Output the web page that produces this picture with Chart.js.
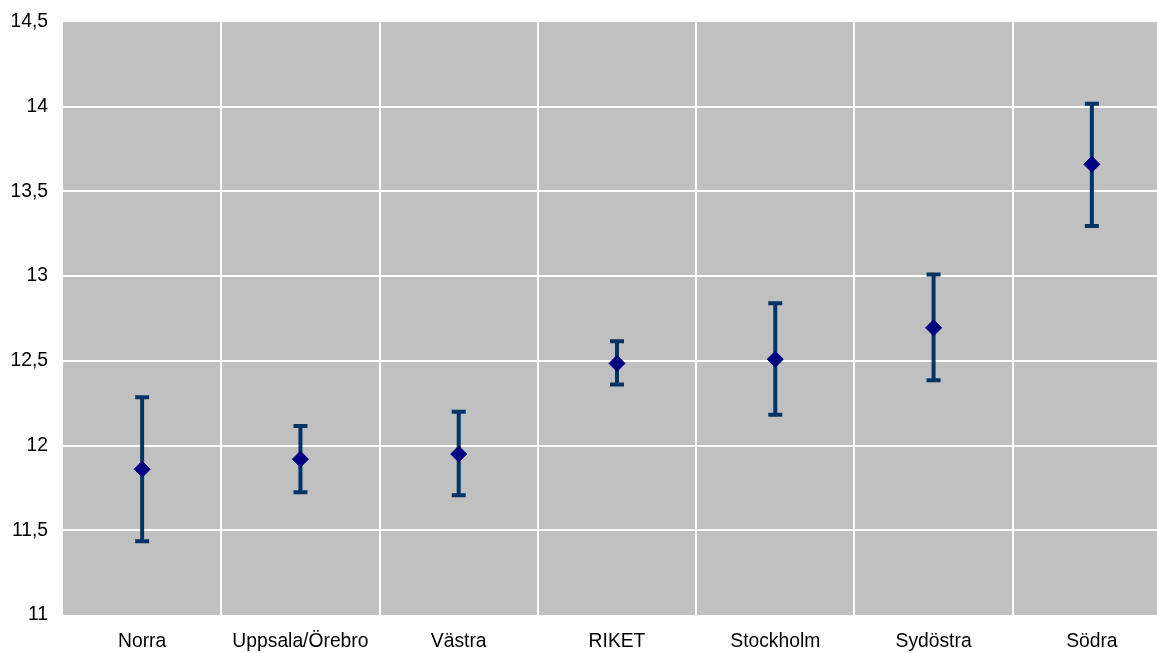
<!DOCTYPE html>
<html>
<head>
<meta charset="utf-8">
<script src="https://cdn.jsdelivr.net/npm/chart.js@4/dist/chart.umd.min.js"></script>
<style>
  html, body { margin: 0; padding: 0; background: #fff; overflow: hidden; }
  #wrap { width: 1180px; height: 653px; position: relative; }
</style>
</head>
<body>
<div id="wrap"><canvas id="c"></canvas></div>
<script>
const categories = ['Norra', 'Uppsala/Örebro', 'Västra', 'RIKET', 'Stockholm', 'Sydöstra', 'Södra'];
const means = [11.86, 11.92, 11.95, 12.485, 12.51, 12.695, 13.66];
const upper = [12.285, 12.115, 12.20, 12.615, 12.84, 13.01, 14.018];
const lower = [11.436, 11.725, 11.707, 12.36, 12.182, 12.386, 13.296];
const yTicks = [11, 11.5, 12, 12.5, 13, 13.5, 14, 14.5];

const fmt = v => String(v).replace('.', ',');
const labelFont = { family: 'Arial, "Liberation Sans", sans-serif', size: 19.3 };

// grey plot area behind the grid
const plotBg = {
  id: 'plotBg',
  beforeDraw(chart) {
    const { ctx, chartArea: a } = chart;
    ctx.save();
    ctx.fillStyle = '#c0c0c0';
    ctx.fillRect(a.left, a.top, a.right - a.left, a.bottom - a.top);
    ctx.restore();
  }
};

// error bars from lower/upper arrays, drawn under the markers
const errorBars = {
  id: 'errorBars',
  beforeDatasetsDraw(chart) {
    const { ctx } = chart;
    const x = chart.scales.x, y = chart.scales.y;
    ctx.save();
    ctx.strokeStyle = '#003366';
    ctx.lineWidth = 4;
    ctx.lineCap = 'butt';
    categories.forEach((c, i) => {
      const px = x.getPixelForValue(i);
      const yt = y.getPixelForValue(upper[i]);
      const yb = y.getPixelForValue(lower[i]);
      ctx.beginPath();
      ctx.moveTo(px, yt); ctx.lineTo(px, yb);
      ctx.moveTo(px - 7, yt); ctx.lineTo(px + 7, yt);
      ctx.moveTo(px - 7, yb); ctx.lineTo(px + 7, yb);
      ctx.stroke();
    });
    ctx.restore();
  }
};

new Chart(document.getElementById('c'), {
  type: 'line',
  data: {
    labels: categories,
    datasets: [{
      data: means,
      showLine: false,
      pointStyle: 'rectRot',
      pointRadius: 8,
      pointHoverRadius: 8,
      backgroundColor: '#000080',
      borderColor: '#000080',
      pointBorderWidth: 1
    }]
  },
  options: {
    responsive: true,
    maintainAspectRatio: false,
    animation: false,
    events: [],
    layout: { padding: { top: 22, right: 8, left: 0, bottom: 0 } },
    plugins: { legend: { display: false }, tooltip: { enabled: false } },
    scales: {
      x: {
        offset: true,
        border: { display: false },
        grid: {
          offset: true,
          drawTicks: false,
          lineWidth: 2,
          color: ctx => (ctx.index === 0 ? 'rgba(0,0,0,0)' : '#ffffff')
        },
        ticks: {
          color: '#000',
          font: labelFont,
          padding: 15,
          maxRotation: 0,
          autoSkip: false
        },
        afterFit: s => { s.height = 38; s.paddingLeft = 0; s.paddingRight = 0; }
      },
      y: {
        min: 11,
        max: 14.5,
        border: { display: false },
        afterBuildTicks: s => { s.ticks = yTicks.map(v => ({ value: v })); },
        grid: {
          drawTicks: false,
          lineWidth: 2,
          color: ctx => (ctx.tick && (ctx.tick.value === 11 || ctx.tick.value === 14.5) ? 'rgba(0,0,0,0)' : '#ffffff')
        },
        ticks: {
          color: '#000',
          font: labelFont,
          padding: 15,
          callback: v => fmt(v)
        },
        afterFit: s => { s.width = 63; s.paddingTop = 0; s.paddingBottom = 0; }
      }
    }
  },
  plugins: [plotBg, errorBars]
});
</script>
</body>
</html>
